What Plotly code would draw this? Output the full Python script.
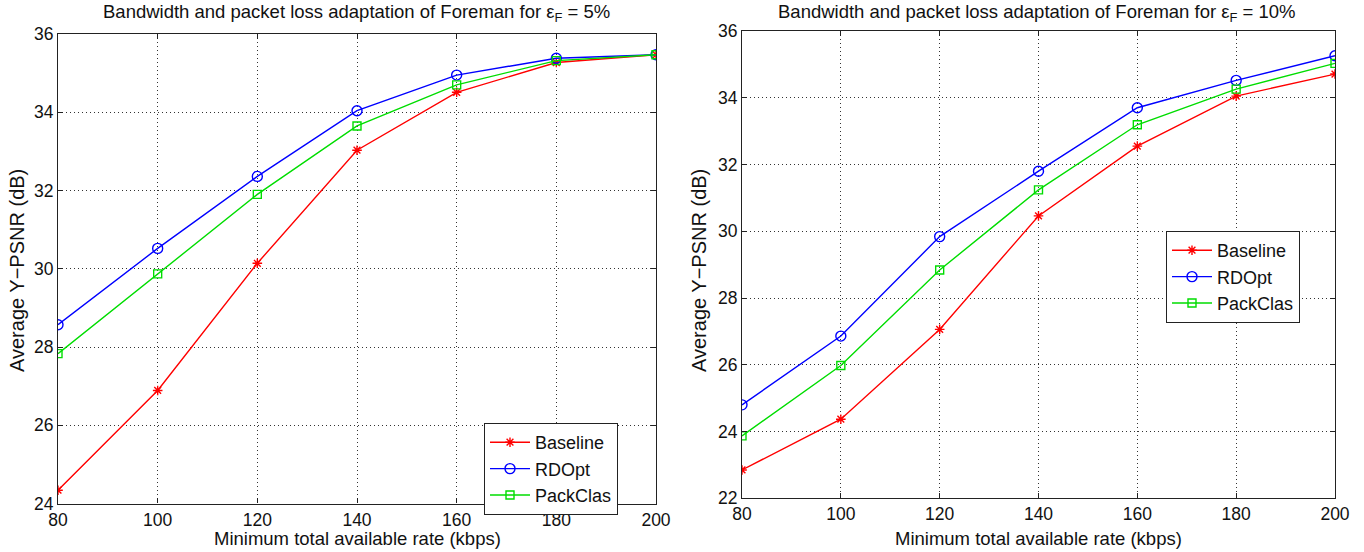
import plotly.graph_objects as go

rates = [80, 100, 120, 140, 160, 180, 200]

# eps_F = 5%
base_5 = [24.34, 26.89, 30.14, 33.03, 34.51, 35.27, 35.47]
rdopt_5 = [28.57, 30.52, 32.36, 34.04, 34.95, 35.38, 35.47]
pack_5 = [27.83, 29.87, 31.90, 33.65, 34.70, 35.32, 35.47]

# eps_F = 10%
base_10 = [22.85, 24.37, 27.06, 30.46, 32.55, 34.05, 34.71]
rdopt_10 = [24.80, 26.86, 29.84, 31.80, 33.70, 34.52, 35.26]
pack_10 = [23.87, 25.98, 28.84, 31.24, 33.19, 34.26, 35.03]

series_names = ["Baseline", "RDOpt", "PackClas"]
x_ticks = [80, 100, 120, 140, 160, 180, 200]
y_ticks_5 = [24, 26, 28, 30, 32, 34, 36]
y_ticks_10 = [22, 24, 26, 28, 30, 32, 34, 36]

titles = ["Bandwidth and packet loss adaptation of Foreman for ε<sub>F</sub> = 5%",
          "Bandwidth and packet loss adaptation of Foreman for ε<sub>F</sub> = 10%"]
x_title = "Minimum total available rate (kbps)"
y_title = "Average Y−PSNR (dB)"

colors = ["#ff0000", "#0000ff", "#00dd00"]
symbols = ["asterisk-open", "circle-open", "square-open"]
sizes = [8, 10, 8]

W, H = 1364, 552
FONT = "Liberation Sans, Arial, Helvetica, sans-serif"

fig = go.Figure()
for i, (name, ys) in enumerate(zip(series_names, [base_5, rdopt_5, pack_5])):
    fig.add_trace(go.Scatter(x=rates, y=ys, name=name, mode="lines+markers",
                             line=dict(color=colors[i], width=1.4),
                             marker=dict(symbol=symbols[i], size=sizes[i], color=colors[i],
                                         line=dict(color=colors[i], width=1.4)),
                             xaxis="x", yaxis="y", legend="legend"))
for i, (name, ys) in enumerate(zip(series_names, [base_10, rdopt_10, pack_10])):
    fig.add_trace(go.Scatter(x=rates, y=ys, name=name, mode="lines+markers",
                             line=dict(color=colors[i], width=1.4),
                             marker=dict(symbol=symbols[i], size=sizes[i], color=colors[i],
                                         line=dict(color=colors[i], width=1.4)),
                             xaxis="x2", yaxis="y2", legend="legend2"))

axis_common = dict(showline=True, linecolor="#222", linewidth=1.2, mirror="ticks",
                   ticks="inside", ticklen=5, tickcolor="#222", automargin=False,
                   showgrid=True, gridcolor="#333", griddash="1px,3px", gridwidth=1,
                   zeroline=False, tickfont=dict(size=17.5, color="#111", family=FONT))

def px(x):
    return x / W

def py(y):
    return 1 - y / H

legend_common = dict(xanchor="left", yanchor="top",
                     bordercolor="#222", borderwidth=1, bgcolor="white",
                     font=dict(size=18, family=FONT, color="#111"),
                     tracegroupgap=0, itemwidth=40)

ann = []
for txt, cx in zip(titles, [356, 1037]):
    ann.append(dict(text=txt, x=px(cx), y=py(13), xref="paper", yref="paper",
                    xanchor="center", yanchor="middle", showarrow=False,
                    font=dict(size=18.5, family=FONT, color="#111")))
for cx in [357, 1038]:
    ann.append(dict(text=x_title, x=px(cx), y=py(538), xref="paper", yref="paper",
                    xanchor="center", yanchor="middle", showarrow=False,
                    font=dict(size=18.5, family=FONT, color="#111")))
for cx, cy in [(17, 271), (699, 271)]:
    ann.append(dict(text=y_title, x=px(cx), y=py(cy), xref="paper", yref="paper",
                    xanchor="center", yanchor="middle", showarrow=False, textangle=-90,
                    font=dict(size=20, family=FONT, color="#111")))

fig.update_layout(
    width=W, height=H,
    margin=dict(l=0, r=0, t=0, b=0, autoexpand=False),
    paper_bgcolor="white", plot_bgcolor="white",
    font=dict(family=FONT, color="#111"),
    xaxis=dict(domain=[px(58), px(656)], range=[80, 200], tickvals=x_ticks, anchor="y", **axis_common),
    yaxis=dict(domain=[py(503.5), py(34)], range=[24, 36], tickvals=y_ticks_5, anchor="x", **axis_common),
    xaxis2=dict(domain=[px(742), px(1335)], range=[80, 200], tickvals=x_ticks, anchor="y2", **axis_common),
    yaxis2=dict(domain=[py(498.3), py(31)], range=[22, 36], tickvals=y_ticks_10, anchor="x2", **axis_common),
    legend=dict(x=px(484), y=py(423), **legend_common),
    legend2=dict(x=px(1166), y=py(231), **legend_common),
    annotations=ann,
)

fig.write_html("out.html", config={"displayModeBar": False},
               post_script="document.body.style.margin='0';document.body.style.overflow='hidden';")
